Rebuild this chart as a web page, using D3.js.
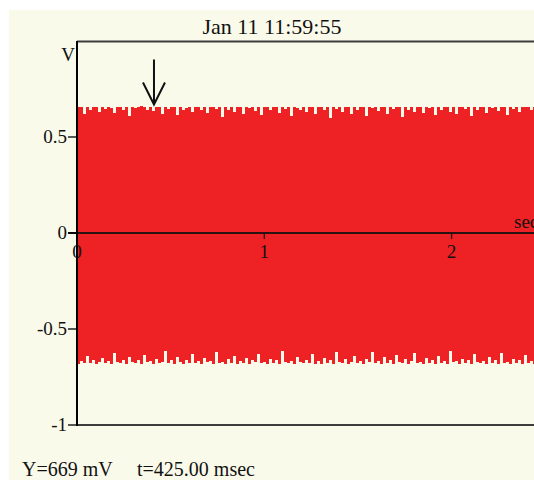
<!DOCTYPE html>
<html>
<head>
<meta charset="utf-8">
<script src="https://cdn.jsdelivr.net/npm/d3@7"></script>
<style>
  body { margin: 0; background: #fff; }
  text { font-family: "Liberation Serif", "Times New Roman", serif; fill: #111; }
</style>
</head>
<body>
<svg width="534" height="480"></svg>
<script>
// recording header / readout
var title = "Jan 11 11:59:55";
var readoutY = "Y=669 mV";
var readoutT = "t=425.00 msec";
var cursorTime = [0.411];   // sec, where the arrow sits
var cursorValue = [0.669];  // V, arrow tip

var yTicks = [-1, -0.5, 0, 0.5];
var yTickLabels = ["-1", "-0.5", "0", "0.5"];
var xTicks = [0, 1, 2];
var xTickLabels = ["0", "1", "2"];

var binWidth = 0.016; // sec per envelope column

// envelope of the signal, max per bin (mV)
var topEnv = [
  655,655,620,655,640,655,655,630,655,645,
  655,650,625,655,655,640,655,610,655,650,
  655,660,655,640,655,635,655,655,620,655,
  645,655,655,615,655,640,650,655,630,655,
  655,640,655,625,655,655,645,655,605,655,
  640,655,630,655,655,620,655,650,655,635,
  655,615,655,655,640,655,655,625,655,645,
  655,610,655,650,640,655,630,655,655,620,
  655,655,640,655,600,655,645,655,630,655,
  655,620,655,640,655,655,610,655,650,655,
  635,655,655,620,655,645,655,655,605,655,
  640,655,630,655,655,625,655,650,655,615,
  655,640,655,655,630,655,620,655,655,645,
  655,610,655,640,655,655,625,655,650,655,
  635,655,655,615,655,645,655,630,655,655,
  655,640,655,620
];
// min per bin (mV)
var bottomEnv = [
  -680,-668,-675,-640,-678,-662,-682,-670,-650,-676,
  -665,-680,-625,-672,-678,-660,-681,-648,-670,-676,
  -662,-680,-635,-674,-668,-680,-655,-677,-670,-615,
  -678,-664,-680,-645,-672,-681,-660,-676,-630,-679,
  -668,-682,-652,-674,-666,-680,-620,-675,-670,-681,
  -658,-677,-640,-680,-669,-675,-650,-682,-664,-672,
  -628,-679,-670,-681,-655,-676,-662,-680,-612,-674,
  -678,-666,-682,-645,-670,-679,-660,-675,-632,-680,
  -668,-681,-650,-677,-664,-680,-622,-673,-679,-658,
  -682,-670,-642,-678,-665,-681,-655,-674,-618,-679,
  -668,-680,-648,-676,-662,-682,-636,-671,-679,-657,
  -680,-667,-626,-677,-670,-681,-652,-675,-663,-680,
  -640,-678,-669,-682,-615,-674,-666,-680,-654,-677,
  -660,-681,-632,-673,-679,-668,-682,-646,-676,-664,
  -680,-624,-678,-670,-681,-656,-675,-662,-680,-638,
  -677,-669,-681,-650
];

var svg = d3.select("svg");

// cream panel
svg.append("rect")
    .attr("x", 9).attr("y", 10)
    .attr("width", 525).attr("height", 470)
    .attr("fill", "#fafaea");

var x = d3.scaleLinear().domain([0, 2.44]).range([77, 534]);
var y = d3.scaleLinear().domain([-1, 1]).range([425, 41]);

var bins = topEnv.map(function (d, i) {
    return { t: i * binWidth, hi: d / 1000, lo: bottomEnv[i] / 1000 };
});
// closing point for the step curve
bins.push({ t: topEnv.length * binWidth, hi: topEnv[topEnv.length - 1] / 1000, lo: bottomEnv[bottomEnv.length - 1] / 1000 });

var area = d3.area()
    .curve(d3.curveStepAfter)
    .x(function (d) { return x(d.t); })
    .y0(function (d) { return y(d.lo); })
    .y1(function (d) { return y(d.hi); });

svg.append("path")
    .datum(bins)
    .attr("d", area)
    .attr("fill", "#ee2225")
    .attr("shape-rendering", "crispEdges");

// frame: top and bottom borders
svg.append("line")
    .attr("x1", x(0)).attr("x2", 534)
    .attr("y1", y(1) + 0.5).attr("y2", y(1) + 0.5)
    .attr("stroke", "#3c3c3c").attr("stroke-width", 2);
svg.append("line")
    .attr("x1", x(0)).attr("x2", 534)
    .attr("y1", y(-1)).attr("y2", y(-1))
    .attr("stroke", "#3c3c3c").attr("stroke-width", 2);

// zero line
svg.append("line")
    .attr("x1", 68).attr("x2", 534)
    .attr("y1", y(0)).attr("y2", y(0))
    .attr("stroke", "#2a1212").attr("stroke-width", 2);

// y axis
var yAxis = svg.append("g").attr("class", "yaxis");
yAxis.append("line")
    .attr("x1", x(0)).attr("x2", x(0))
    .attr("y1", y(1)).attr("y2", y(-1) + 1)
    .attr("stroke", "#000").attr("stroke-width", 2);
yAxis.selectAll(".tick")
    .data(yTicks)
    .enter().append("line")
    .attr("x1", x(0) - 9).attr("x2", x(0))
    .attr("y1", function (d) { return y(d); })
    .attr("y2", function (d) { return y(d); })
    .attr("stroke", "#000").attr("stroke-width", 1.3);
yAxis.selectAll(".lbl")
    .data(yTicks)
    .enter().append("text")
    .attr("x", x(0) - 10)
    .attr("y", function (d) { return y(d); })
    .attr("dy", "0.33em")
    .attr("text-anchor", "end")
    .style("font-size", "19px")
    .text(function (d, i) { return yTickLabels[i]; });
yAxis.append("text")
    .attr("x", x(0) - 2).attr("y", 61)
    .attr("text-anchor", "end")
    .style("font-size", "19px")
    .text("V");

// x axis ticks and labels
var xAxis = svg.append("g").attr("class", "xaxis");
xAxis.selectAll(".tick")
    .data(xTicks.slice(1))
    .enter().append("line")
    .attr("x1", function (d) { return x(d); })
    .attr("x2", function (d) { return x(d); })
    .attr("y1", y(0)).attr("y2", y(0) + 6)
    .attr("stroke", "#2a1212").attr("stroke-width", 1.3);
xAxis.selectAll(".lbl")
    .data(xTicks)
    .enter().append("text")
    .attr("x", function (d) { return x(d); })
    .attr("y", 258)
    .attr("text-anchor", "middle")
    .style("font-size", "19px")
    .text(function (d, i) { return xTickLabels[i]; });
xAxis.append("text")
    .attr("x", 514).attr("y", 228)
    .style("font-size", "19px")
    .text("sec");

// title
svg.append("text")
    .attr("x", 272).attr("y", 34)
    .attr("text-anchor", "middle")
    .style("font-size", "22px")
    .text(title);

// cursor arrow
var ax = x(cursorTime[0]), ay = y(cursorValue[0]);
svg.append("path")
    .attr("d", "M" + ax + "," + (ay - 45) + "L" + ax + "," + ay +
               "M" + (ax - 11) + "," + (ay - 22) + "L" + ax + "," + ay +
               "L" + (ax + 11) + "," + (ay - 22))
    .attr("fill", "none")
    .attr("stroke", "#111").attr("stroke-width", 2);

// readout
svg.append("text")
    .attr("x", 22).attr("y", 476)
    .style("font-size", "20px")
    .text(readoutY);
svg.append("text")
    .attr("x", 137).attr("y", 476)
    .style("font-size", "20px")
    .text(readoutT);
</script>
</body>
</html>
